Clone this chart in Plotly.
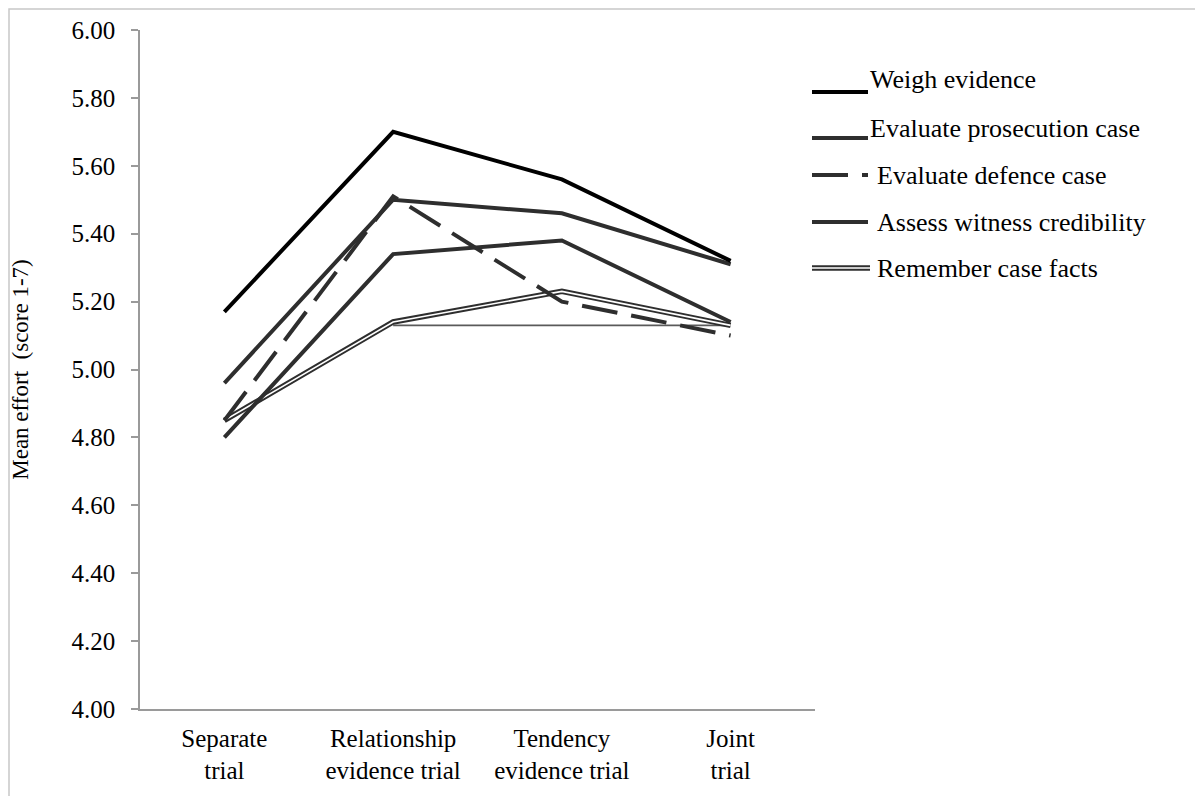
import plotly.graph_objects as go

# ---------------- data ----------------
categories = ["Separate<br>trial", "Relationship<br>evidence trial",
              "Tendency<br>evidence trial", "Joint<br>trial"]
weigh_evidence = [5.17, 5.70, 5.56, 5.32]
evaluate_prosecution = [4.96, 5.50, 5.46, 5.31]
evaluate_defence = [4.85, 5.51, 5.20, 5.10]
assess_witness = [4.80, 5.34, 5.38, 5.14]
remember_facts = [4.85, 5.14, 5.23, 5.13]
remember_shadow = [None, 5.13, 5.13, 5.13]

series_names = ["Weigh evidence", "Evaluate prosecution case",
                "Evaluate defence case", "Assess witness credibility",
                "Remember case facts"]
y_ticks = [4.0, 4.2, 4.4, 4.6, 4.8, 5.0, 5.2, 5.4, 5.6, 5.8, 6.0]
y_tick_labels = ["%.2f" % v for v in y_ticks]

FONT = "Liberation Serif, Times New Roman, serif"
DARK = "#2e2e2e"
DASH = "36px,14px"

# page offset of the plot div (default body margin)
OFF = 8
# plot area in viewport pixels
L, R, T, B = 140, 815, 30, 709
W, H = 1203 - OFF, 796 - OFF


def px(x):
    return (x - L) / (R - L)


def py(y):
    return (B - y) / (B - T)


fig = go.Figure()

fig.add_trace(go.Scatter(x=categories, y=remember_shadow, mode="lines",
                         line=dict(color="#5a5a5a", width=1.6),
                         showlegend=False, hoverinfo="skip"))
fig.add_trace(go.Scatter(x=categories, y=remember_facts, mode="lines",
                         line=dict(color=DARK, width=5.5),
                         name=series_names[4], showlegend=False))
fig.add_trace(go.Scatter(x=categories, y=remember_facts, mode="lines",
                         line=dict(color="white", width=1.6),
                         showlegend=False, hoverinfo="skip"))
fig.add_trace(go.Scatter(x=categories, y=assess_witness, mode="lines",
                         line=dict(color=DARK, width=4),
                         name=series_names[3], showlegend=False))
fig.add_trace(go.Scatter(x=categories, y=evaluate_defence, mode="lines",
                         line=dict(color=DARK, width=4, dash=DASH),
                         name=series_names[2], showlegend=False))
fig.add_trace(go.Scatter(x=categories, y=evaluate_prosecution, mode="lines",
                         line=dict(color=DARK, width=4),
                         name=series_names[1], showlegend=False))
fig.add_trace(go.Scatter(x=categories, y=weigh_evidence, mode="lines",
                         line=dict(color="black", width=4),
                         name=series_names[0], showlegend=False))

# ---------------- manual legend ----------------
legend_rows = [
    # (line y px, text y px, text x px)
    (92, 80, 868),
    (138, 128, 868),
    (175, 175, 875),
    (222, 222, 875),
    (268, 268, 875),
]
shapes = []
annotations = []
styles = [
    [dict(color="black", width=4)],
    [dict(color=DARK, width=4)],
    [dict(color=DARK, width=4, dash=DASH)],
    [dict(color=DARK, width=4)],
    [dict(color=DARK, width=5.5), dict(color="white", width=1.6)],
]
for name, (ly, ty, tx), st in zip(series_names, legend_rows, styles):
    x1 = 870 if len(st) > 1 else 868
    for s in st:
        shapes.append(dict(type="line", xref="paper", yref="paper",
                           x0=px(812), x1=px(x1), y0=py(ly), y1=py(ly),
                           line=s))
    annotations.append(dict(text=name, xref="paper", yref="paper",
                            x=px(tx), y=py(ty), xanchor="left",
                            yanchor="middle", showarrow=False,
                            font=dict(family=FONT, size=26, color="black")))

# outer border
shapes.append(dict(type="rect", xref="paper", yref="paper",
                   x0=px(9), x1=px(1197), y0=py(9), y1=py(800),
                   line=dict(color="#c8c8c8", width=1.5)))

fig.update_layout(
    template="none",
    width=W, height=H,
    margin=dict(l=L - OFF, r=W - (R - OFF), t=T - OFF, b=H - (B - OFF),
                pad=0, autoexpand=False),
    paper_bgcolor="white", plot_bgcolor="white",
    shapes=shapes, annotations=annotations,
    showlegend=False,
    font=dict(family=FONT, color="black"),
)
fig.update_xaxes(
    type="category", range=[-0.5, 3.5], automargin=False,
    showgrid=False, zeroline=False,
    showline=True, linecolor="#9a9a9a", linewidth=1.5,
    ticks="", tickfont=dict(family=FONT, size=25, color="black"),
    ticklabelstandoff=6,
)
fig.update_yaxes(
    range=[4, 6], tickvals=y_ticks, ticktext=y_tick_labels,
    automargin=False, showgrid=False, zeroline=False,
    showline=True, linecolor="#9a9a9a", linewidth=1.5,
    ticks="outside", ticklen=7, tickcolor="#9a9a9a", tickwidth=1.5,
    tickfont=dict(family=FONT, size=25, color="black"),
    ticklabelstandoff=11,
    title=dict(text="Mean effort \u00a0(score 1-7)",
               font=dict(family=FONT, size=23, color="black"), standoff=40),
)

fig.write_html("out.html")
